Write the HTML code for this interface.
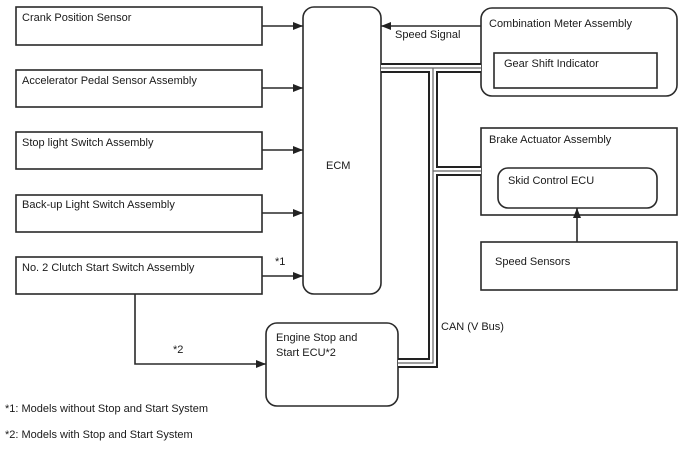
<!DOCTYPE html>
<html><head><style>
body{margin:0;background:#fff;}
svg text{font-family:"Liberation Sans",Arial,sans-serif;font-size:11px;fill:#1a1a1a;}
</style></head><body>
<svg width="688" height="463" viewBox="0 0 688 463" xmlns="http://www.w3.org/2000/svg">
<defs><marker id="a" markerWidth="10" markerHeight="8" refX="10" refY="4" orient="auto" markerUnits="userSpaceOnUse"><path d="M0,0 L10,4 L0,8 Z" fill="#222"/></marker></defs>
<g fill="none" stroke="#2a2a2a" stroke-width="1.6">
<rect x="16" y="7" width="246" height="38"/>
<rect x="16" y="70" width="246" height="37"/>
<rect x="16" y="132" width="246" height="37"/>
<rect x="16" y="195" width="246" height="37"/>
<rect x="16" y="257" width="246" height="37"/>
<rect x="303" y="7" width="78" height="287" rx="11"/>
<rect x="481" y="8" width="196" height="88" rx="11"/>
<rect x="494" y="53" width="163" height="35"/>
<rect x="481" y="128" width="196" height="87"/>
<rect x="498" y="168" width="159" height="40" rx="10"/>
<rect x="481" y="242" width="196" height="48"/>
<rect x="266" y="323" width="132" height="83" rx="11"/>
<line x1="262" y1="26" x2="303" y2="26" marker-end="url(#a)"/>
<line x1="262" y1="88" x2="303" y2="88" marker-end="url(#a)"/>
<line x1="262" y1="150" x2="303" y2="150" marker-end="url(#a)"/>
<line x1="262" y1="213" x2="303" y2="213" marker-end="url(#a)"/>
<line x1="262" y1="276" x2="303" y2="276" marker-end="url(#a)"/>
<line x1="481" y1="26" x2="381" y2="26" marker-end="url(#a)"/>
<line x1="577" y1="242" x2="577" y2="208" marker-end="url(#a)"/>
<polyline points="135,294 135,364 266,364" marker-end="url(#a)"/>
</g>
<g fill="none" stroke-linejoin="miter">
<path d="M381,68 H481 M433,68 V363 H398 M433,171 H481" stroke="#222" stroke-width="10"/>
<path d="M381,68 H481 M433,68 V363 H398 M433,171 H481" stroke="#fff" stroke-width="6"/>
<path d="M381,68 H481 M433,68 V363 H398 M433,171 H481" stroke="#666" stroke-width="1.2"/>
</g>
<text x="22" y="21">Crank Position Sensor</text>
<text x="22" y="84">Accelerator Pedal Sensor Assembly</text>
<text x="22" y="146">Stop light Switch Assembly</text>
<text x="22" y="208">Back-up Light Switch Assembly</text>
<text x="22" y="271">No. 2 Clutch Start Switch Assembly</text>
<text x="326" y="169">ECM</text>
<text x="395" y="38">Speed Signal</text>
<text x="489" y="27">Combination Meter Assembly</text>
<text x="504" y="67">Gear Shift Indicator</text>
<text x="489" y="143">Brake Actuator Assembly</text>
<text x="508" y="184">Skid Control ECU</text>
<text x="495" y="265">Speed Sensors</text>
<text x="275" y="265">*1</text>
<text x="173" y="353">*2</text>
<text x="276" y="341">Engine Stop and</text>
<text x="276" y="356">Start ECU*2</text>
<text x="441" y="330">CAN (V Bus)</text>
<text x="5" y="412">*1: Models without Stop and Start System</text>
<text x="5" y="438">*2: Models with Stop and Start System</text>
</svg>
</body></html>
